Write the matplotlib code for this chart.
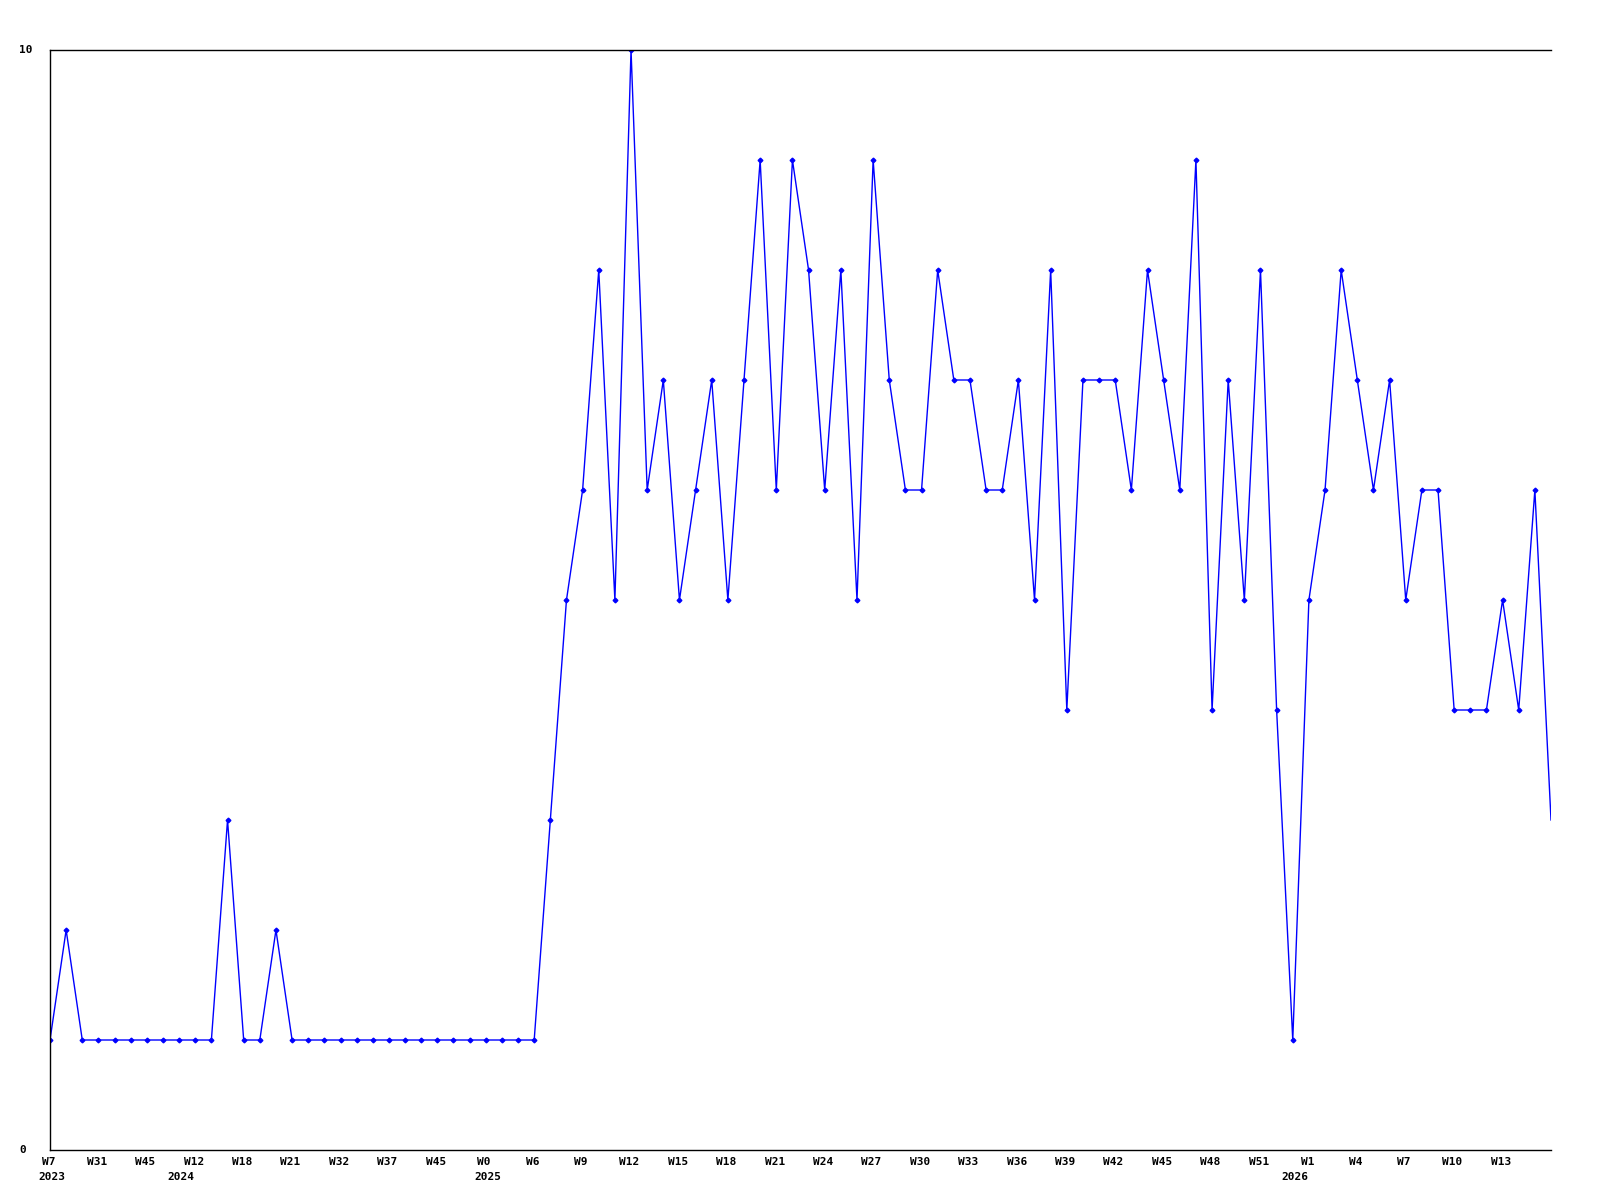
import matplotlib
matplotlib.use("Agg")
import matplotlib.pyplot as plt

values = [1, 2, 1, 1, 1, 1, 1, 1, 1, 1, 1, 3, 1, 1, 2, 1,
          1, 1, 1, 1, 1, 1, 1, 1, 1, 1, 1, 1, 1, 1, 1,
          3, 5, 6, 8, 5, 10, 6, 7, 5, 6, 7, 5, 7, 9, 6, 9, 8, 6, 8,
          5, 9, 7, 6, 6, 8, 7, 7, 6, 6, 7, 5, 8, 4, 7, 7, 7, 6, 8, 7,
          6, 9, 4, 7, 5, 8, 4, 1, 5, 6, 8, 7, 6, 7, 5, 6, 6, 4, 4, 4,
          5, 4, 6, 3]

week_labels = ["W7", "W31", "W45", "W12", "W18", "W21", "W32", "W37", "W45",
               "W0", "W6", "W9", "W12", "W15", "W18", "W21", "W24", "W27",
               "W30", "W33", "W36", "W39", "W42", "W45", "W48", "W51", "W1",
               "W4", "W7", "W10", "W13"]
week_label_step = 3

year_labels = ["2023", "2024", "2025", "2026"]
year_label_idx = [0, 8, 27, 77]

y_labels = ["0", "10"]
y_label_vals = [0, 10]

FONT = dict(family="DejaVu Sans Mono", fontweight="bold", fontsize=8)

fig = plt.figure(figsize=(16, 12), dpi=100)
ax = fig.add_axes([50 / 1600, 50 / 1200, 1501 / 1600, 1100 / 1200])

x = list(range(len(values)))
ax.plot(x, values, color="#0000FF", linewidth=1.0, marker="D", markersize=2.4,
        markevery=list(range(len(values) - 1)), clip_on=True)

ax.set_xlim(0, len(values) - 1)
ax.set_ylim(0, 10)

for side in ["left", "top", "bottom"]:
    ax.spines[side].set_color("black")
    ax.spines[side].set_linewidth(1.0)
ax.spines["right"].set_visible(False)

ax.set_xticks([])
ax.set_yticks([])

tr = ax.get_xaxis_transform()
for i, lab in enumerate(week_labels):
    ax.text(i * week_label_step - 0.1, -0.011, lab, transform=tr, ha="center", va="center", **FONT)
for idx, lab in zip(year_label_idx, year_labels):
    ax.text(idx + 0.1, -0.0245, lab, transform=tr, ha="center", va="center", **FONT)

blend = matplotlib.transforms.blended_transform_factory(fig.transFigure, ax.transData)
for v, lab in zip(y_label_vals, y_labels):
    fig.text(19 / 1600, v, lab, ha="left", va="center", transform=blend, **FONT)

fig.savefig("out.png", dpi=100)
